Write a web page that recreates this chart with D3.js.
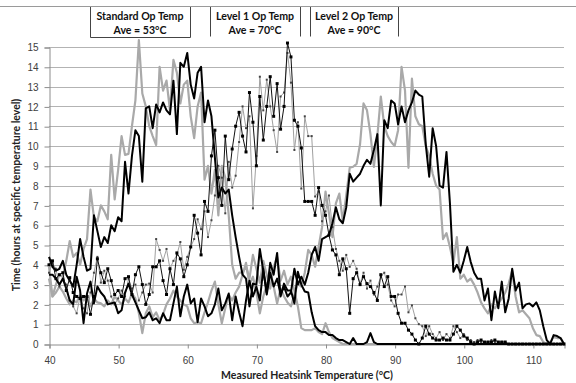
<!DOCTYPE html>
<html>
<head>
<meta charset="utf-8">
<script src="https://cdn.jsdelivr.net/npm/d3@7"></script>
<style>
	body { margin: 0; background: #fff; }
	svg { display: block; font-family: Lato, 'Open Sans', sans-serif; }
	.grid line { stroke: #b3b3b3; stroke-width: 1; }
	.tick-label { font-size: 10px; fill: #404040; }
	.axis-title { font-size: 10.5px; font-weight: bold; fill: #222; }
	.box-text { font-size: 10.6px; font-weight: bold; fill: #111; }
</style>
</head>
<body>
<svg id="chart" width="576" height="383"></svg>
<script>
// temperature categories, 40 .. 114.5 in half degree steps
const temps = d3.range(40, 114.51, 0.5);
const xTicks = [40, 50, 60, 70, 80, 90, 100, 110];
const yTicks = d3.range(0, 16);

const boxTitles = ['Standard Op Temp', 'Level 1 Op Temp', 'Level 2 Op Temp'];
const boxAverages = ['Ave = 53°C', 'Ave = 70°C', 'Ave = 90°C'];

// each row below = 5 degrees (10 points)
const stdGrey = [
	3.3, 2.4, 3.0, 3.5, 3.4, 4.2, 5.2, 4.4, 4.6, 4.0,
	4.8, 5.3, 7.8, 6.4, 6.2, 7.0, 6.7, 6.3, 9.55, 7.3,
	8.8, 10.5, 9.55, 9.6, 11.0, 12.3, 15.35, 12.65, 12.0, 11.0,
	10.5, 10.05, 14.0, 12.8, 13.3, 11.8, 14.35, 13.7, 12.15, 13.1,
	13.3, 11.5, 10.4, 12.0, 12.7, 8.3, 9.0, 7.6, 8.8, 6.5,
	9.0, 8.4, 6.5, 4.0, 3.3, 3.6, 3.6, 3.9, 3.3, 4.5,
	3.8, 3.1, 4.2, 3.5, 2.8, 3.9, 4.4, 3.2, 3.7, 3.0,
	3.4, 2.7, 1.9, 0.8, 0.7, 0.7, 0.7, 0.8, 0.6, 0.5,
	1.05, 0.6, 0.3, 0.2, 0.1, 0, 0, 0, 0, 0,
	0, 0, 0, 0, 0, 0, 0, 0, 0, 0,
	0, 0, 0, 0, 0, 0, 0, 0, 0, 0,
	0, 0, 0, 0, 0, 0, 0, 0, 0, 0,
	0, 0, 0, 0, 0, 0, 0, 0, 0, 0,
	0, 0, 0, 0, 0, 0, 0, 0, 0, 0,
	0, 0, 0, 0, 0, 0, 0, 0, 0, 0,
];
const stdBlack = [
	4.4, 3.9, 3.7, 3.8, 4.2, 3.5, 3.2, 2.9, 4.0, 5.3,
	4.4, 3.7, 3.8, 6.5, 5.7, 4.9, 5.4, 5.1, 6.0, 5.7,
	6.4, 6.2, 9.2, 7.6, 9.5, 10.8, 10.5, 8.2, 11.9, 12.0,
	10.9, 12.1, 11.7, 12.2, 11.8, 11.6, 13.3, 10.6, 14.2, 14.0,
	14.7, 13.1, 12.4, 13.7, 14.0, 11.2, 12.3, 11.5, 9.4, 7.4,
	7.9, 7.6, 7.8, 6.5, 5.4, 4.4, 3.5, 3.3, 1.9, 3.05,
	3.0, 4.8, 3.7, 2.6, 4.1, 3.5, 4.6, 2.4, 3.05, 2.7,
	2.7, 2.05, 3.65, 3.0, 2.65, 2.6, 1.6, 0.9, 0.7, 0.6,
	0.6, 0.45, 0.45, 0.3, 0.2, 0.2, 0.1, 0, 0.3, 0,
	0, 0, 0.1, 0.55, 0.1, 0, 0, 0, 0, 0,
	0, 0, 0, 0, 0, 0, 0, 0, 0, 0,
	0, 0, 0, 0, 0, 0, 0, 0, 0, 0,
	0, 0, 0, 0, 0, 0, 0, 0, 0, 0,
	0, 0, 0, 0, 0, 0, 0, 0, 0, 0,
	0, 0, 0, 0, 0, 0, 0, 0, 0, 0,
];
const l1Grey = [
	3.6, 4.1, 3.8, 2.9, 3.3, 3.0, 2.2, 1.9, 1.55, 2.4,
	1.8, 1.55, 2.6, 3.6, 4.4, 3.1, 3.7, 3.2, 2.4, 2.0,
	2.3, 2.7, 2.4, 3.3, 2.8, 3.0, 2.2, 2.6, 3.0, 3.05,
	2.6, 5.3, 4.75, 4.2, 4.8, 3.8, 4.2, 4.5, 5.15, 3.75,
	4.4, 4.9, 5.3, 6.3, 5.8, 6.7, 5.4, 6.25, 7.5, 9.0,
	8.4, 6.6, 9.2, 7.9, 8.5, 10.2, 12.0, 10.9, 11.5, 6.85,
	9.5, 13.5, 11.8, 13.35, 12.0, 10.8, 9.7, 12.5, 12.7, 14.7,
	13.2, 9.8, 11.2, 7.85, 11.5, 10.5, 10.5, 7.45, 7.7, 6.2,
	6.7, 7.5, 5.9, 4.8, 4.2, 3.7, 4.5, 3.9, 4.2, 3.8,
	3.05, 3.6, 2.8, 3.2, 2.5, 2.9, 3.4, 3.6, 3.0, 2.2,
	1.9, 2.5, 2.5, 2.9, 1.6, 1.95, 1.3, 1.0, 0.9, 0.4,
	0.9, 0.5, 0.3, 0.6, 0.2, 0.5, 0.3, 0.9, 0.6, 0.3,
	0.5, 0.2, 0.2, 0.1, 0.2, 0.1, 0, 0.1, 0.2, 0.1,
	0, 0.1, 0, 0, 0, 0, 0, 0, 0, 0,
	0, 0, 0, 0, 0, 0, 0, 0, 0, 0,
];
const l1Black = [
	4.0, 4.2, 3.3, 3.5, 3.6, 2.7, 3.35, 2.6, 2.4, 2.3,
	2.4, 2.4, 1.5, 2.4, 4.3, 3.6, 3.1, 3.8, 3.2, 2.5,
	2.7, 2.4, 3.3, 3.4, 2.5, 3.5, 3.9, 3.0, 2.0, 2.5,
	3.9, 3.9, 4.2, 3.2, 2.5, 3.8, 3.0, 4.6, 4.3, 3.4,
	4.0, 4.9, 6.5, 5.6, 4.5, 7.2, 6.7, 9.5, 10.8, 8.4,
	7.0, 10.5, 8.3, 9.85, 11.0, 11.7, 10.5, 9.7, 12.7, 11.2,
	9.0, 12.5, 10.3, 12.0, 13.5, 11.5, 13.15, 10.85, 12.0, 15.2,
	14.5, 11.3, 11.0, 9.9, 7.2, 7.2, 7.2, 6.5, 7.9, 7.0,
	6.5, 5.5, 4.75, 4.5, 3.5, 4.3, 3.8, 1.55, 3.3, 3.6,
	3.0, 3.4, 3.05, 2.9, 2.6, 2.2, 3.5, 2.9, 3.4, 2.4,
	2.4, 1.55, 1.05, 1.05, 0.7, 0.5, 0.2, 0, 0.3, 0.9,
	0.5, 0.3, 0.2, 0.2, 0.3, 0.2, 0.2, 0.5, 0.9, 0.7,
	0.4, 0.3, 0.1, 0, 0.1, 0.2, 0.1, 0.1, 0.1, 0.2,
	0.1, 0.1, 0.1, 0, 0, 0, 0, 0, 0, 0,
	0, 0, 0, 0, 0, 0, 0, 0, 0, 0,
];
const l2Grey = [
	3.9, 2.4, 2.6, 2.9, 2.65, 2.3, 2.0, 2.2, 2.1, 2.5,
	2.2, 2.4, 1.9, 2.3, 2.1, 2.05, 1.9, 2.2, 2.0, 2.4,
	2.2, 2.0, 2.3, 2.1, 2.55, 2.3, 1.55, 0.55, 1.55, 1.9,
	1.35, 1.6, 1.2, 1.5, 2.0, 2.3, 2.7, 2.4, 2.2, 2.0,
	1.9, 1.3, 1.05, 1.1, 1.05, 1.6, 2.1, 2.7, 3.15, 2.0,
	1.05, 1.8, 2.5, 2.2, 2.6, 2.9, 3.5, 4.1, 3.0, 3.4,
	2.6, 1.55, 2.4, 3.0, 3.7, 2.9, 2.05, 2.8, 2.4, 2.1,
	1.9, 2.5, 3.05, 2.9, 3.6, 4.75, 4.5, 3.9, 4.9, 5.9,
	7.7, 6.6, 5.4, 7.1, 7.6, 6.2, 7.5, 8.9, 8.95, 9.1,
	10.1, 12.15, 11.8, 10.6, 8.95, 10.5, 12.5, 11.0, 10.5, 10.2,
	10.0, 10.8, 14.0, 12.8, 8.9, 13.4, 11.5, 11.1, 11.0, 10.0,
	9.5, 8.6, 8.0, 7.8, 5.3, 5.6, 4.9, 4.1, 5.4, 3.3,
	3.5, 3.15, 3.3, 3.0, 2.6, 2.1, 1.8, 1.55, 2.0, 1.8,
	2.05, 2.3, 2.6, 3.05, 3.7, 2.4, 1.6, 1.7, 1.5, 1.3,
	0.8, 0.45, 0.4, 0.1, 0, 0.1, 0.35, 0.3, 0.3, 0,
];
const l2Black = [
	3.5, 3.5, 3.3, 3.0, 3.3, 2.8, 2.2, 2.0, 3.4, 2.7,
	1.05, 2.55, 3.15, 2.05, 2.9, 2.6, 2.4, 2.0, 2.05, 2.1,
	1.55, 1.7, 2.6, 3.05, 2.5, 2.1, 1.7, 1.3, 1.35, 1.6,
	1.2, 1.3, 1.05, 1.55, 1.2, 1.2, 2.05, 2.9, 1.4, 2.4,
	3.0, 2.05, 2.3, 1.1, 2.3, 1.9, 1.4, 1.55, 2.0, 2.8,
	1.7, 2.05, 2.55, 1.2, 2.4, 1.6, 0.9, 2.2, 3.2, 2.4,
	2.9, 2.2, 3.8, 2.5, 3.6, 2.9, 3.3, 2.5, 2.9, 2.4,
	2.6, 3.8, 3.0, 3.4, 3.0, 3.6, 4.5, 4.9, 4.2, 5.3,
	5.4, 5.5, 6.1, 6.9, 6.3, 6.1, 6.9, 8.6, 8.2, 8.4,
	8.6, 9.0, 9.3, 9.1, 9.8, 10.6, 7.0, 11.3, 10.9, 12.3,
	12.15, 11.1, 12.0, 11.2, 11.8, 12.2, 12.8, 12.6, 12.5, 10.1,
	8.45, 10.9, 10.0, 8.0, 7.9, 9.7, 7.1, 3.65, 4.0, 3.6,
	4.2, 4.9, 4.15, 3.6, 3.3, 3.3, 2.2, 2.8, 1.2, 2.65,
	1.8, 3.15, 1.6, 2.3, 3.8, 2.7, 3.1, 1.8, 2.0, 2.05,
	1.9, 2.1, 1.7, 0.9, 0.2, 0, 0.45, 0.4, 0.3, 0,
];

const svg = d3.select('#chart');
const x = d3.scaleLinear().domain([40, 114.5]).range([49, 564]);
const y = d3.scaleLinear().domain([0, 15]).range([344, 47]);

// frame top line
svg.append('line')
	.attr('x1', 0).attr('x2', 576)
	.attr('y1', 6.5).attr('y2', 6.5)
	.attr('stroke', '#9a9a9a');

// gridlines
svg.append('g').attr('class', 'grid')
	.selectAll('line').data(yTicks.filter((d) => d > 0)).enter().append('line')
	.attr('x1', x(40)).attr('x2', x(114.5))
	.attr('y1', (d) => Math.round(y(d)) + 0.5)
	.attr('y2', (d) => Math.round(y(d)) + 0.5);

// y axis
const yAxis = svg.append('g')
	.attr('transform', `translate(${x(40) + 0.5},0.5)`)
	.call(d3.axisLeft(y).tickValues(yTicks).tickSize(5).tickPadding(6));
yAxis.select('.domain').attr('stroke', '#8c8c8c');
yAxis.selectAll('.tick line').attr('stroke', '#8c8c8c');
yAxis.selectAll('.tick text').attr('class', 'tick-label').attr('font-family', null).attr('font-size', null);

// x axis
const xAxis = svg.append('g')
	.attr('transform', `translate(0.5,${y(0) + 0.5})`)
	.call(d3.axisBottom(x).tickValues(xTicks).tickSize(4).tickPadding(8));
xAxis.select('.domain').attr('stroke', '#8c8c8c');
xAxis.selectAll('.tick line').attr('stroke', '#8c8c8c');
xAxis.selectAll('.tick text').attr('class', 'tick-label').attr('font-family', null).attr('font-size', null);

const line = d3.line()
	.x((d, i) => x(temps[i]))
	.y((d) => y(d));

function drawSeries(values, color, width) {
	svg.append('path')
		.datum(values)
		.attr('d', line)
		.attr('fill', 'none')
		.attr('stroke', color)
		.attr('stroke-width', width)
		.attr('stroke-linejoin', 'round');
}

function drawMarkers(values, color, size) {
	svg.append('g').selectAll('rect').data(values).enter().append('rect')
		.attr('x', (d, i) => x(temps[i]) - size / 2)
		.attr('y', (d) => y(d) - size / 2)
		.attr('width', size)
		.attr('height', size)
		.attr('fill', color);
}

drawSeries(stdGrey, '#a9a9a9', 2.2);
drawSeries(l2Grey, '#a9a9a9', 2.2);
drawSeries(l1Grey, '#a0a0a0', 1);
drawMarkers(l1Grey, '#444', 2);
drawSeries(stdBlack, '#000', 2);
drawSeries(l2Black, '#000', 2);
drawSeries(l1Black, '#111', 1);
drawMarkers(l1Black, '#000', 3);

// annotation boxes
const boxes = [
	{ x0: 90, x1: 190, bottom: true },
	{ x0: 210, x1: 300, bottom: false },
	{ x0: 310, x1: 398, bottom: false },
];
boxes.forEach((b, i) => {
	const g = svg.append('g');
	g.append('rect')
		.attr('x', b.x0 + 0.5).attr('y', 7)
		.attr('width', b.x1 - b.x0).attr('height', 29.5)
		.attr('fill', '#fff');
	const path = b.bottom
		? `M${b.x0 + 0.5},7V37.5H${b.x1 + 0.5}V7`
		: `M${b.x0 + 0.5},7V36.5M${b.x1 + 0.5},7V36.5`;
	g.append('path')
		.attr('d', path)
		.attr('fill', 'none')
		.attr('stroke', '#444');
	const cx = (b.x0 + b.x1) / 2;
	g.append('text').attr('class', 'box-text')
		.attr('x', cx).attr('y', 20)
		.attr('text-anchor', 'middle')
		.text(boxTitles[i]);
	g.append('text').attr('class', 'box-text')
		.attr('x', cx).attr('y', 34)
		.attr('text-anchor', 'middle')
		.text(boxAverages[i]);
});

// axis titles
svg.append('text').attr('class', 'axis-title')
	.attr('x', 307).attr('y', 379)
	.attr('text-anchor', 'middle')
	.text('Measured Heatsink Temperature (°C)');
svg.append('text').attr('class', 'axis-title')
	.attr('transform', 'translate(20,195) rotate(-90)')
	.attr('text-anchor', 'middle')
	.text('Time (hours at specific temperature level)');
</script>
</body>
</html>
